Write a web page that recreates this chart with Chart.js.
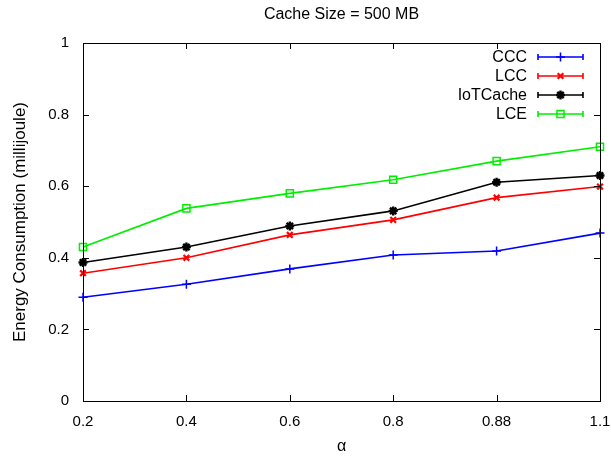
<!DOCTYPE html>
<html>
<head>
<meta charset="utf-8">
<script src="https://cdn.jsdelivr.net/npm/chart.js@4/dist/chart.umd.min.js"></script>
<style>
html,body{margin:0;padding:0;background:#fff;}
#wrap{width:611px;height:458px;position:relative;}
</style>
</head>
<body>
<div id="wrap"><canvas id="c" width="611" height="458"></canvas></div>
<script>
const categories = ['0.2', '0.4', '0.6', '0.8', '0.88', '1.1'];
const cccValues = [0.29, 0.326, 0.369, 0.408, 0.419, 0.469];
const lccValues = [0.357, 0.400, 0.464, 0.506, 0.568, 0.599];
const iotCacheValues = [0.387, 0.430, 0.489, 0.531, 0.611, 0.630];
const lceValues = [0.430, 0.538, 0.580, 0.618, 0.670, 0.710];
const seriesNames = ['CCC', 'LCC', 'IoTCache', 'LCE'];
const yTickLabels = ['0', '0.2', '0.4', '0.6', '0.8', '1'];
const chartTitle = 'Cache Size = 500 MB';
const yTitle = 'Energy Consumption (millijoule)';
const xTitle = 'α';

const FONT = '"Liberation Sans", Arial, sans-serif';

function ds(label, data, color, style, radius, width) {
  return {
    label, data,
    borderColor: color, backgroundColor: color,
    pointStyle: style, pointRadius: radius, pointHoverRadius: radius,
    pointBorderColor: color, pointBackgroundColor: 'rgba(0,0,0,0)',
    pointBorderWidth: width, borderWidth: 1.6, tension: 0
  };
}

const datasets = [
  ds(seriesNames[0], cccValues, '#0000ff', 'cross', 4.5, 1.5),
  ds(seriesNames[1], lccValues, '#ff0000', 'crossRot', 4, 2.2),
  ds(seriesNames[2], iotCacheValues, '#000000', 'star', 4.5, 2.4),
  ds(seriesNames[3], lceValues, '#00ee00', 'rect', 5, 1.5)
];

const framePlugin = {
  id: 'frame',
  afterDraw(chart) {
    const ctx = chart.ctx;
    const a = chart.chartArea;
    ctx.save();
    ctx.strokeStyle = '#000';
    ctx.lineWidth = 1;
    ctx.strokeRect(Math.round(a.left) + 0.5, Math.round(a.top) + 0.5,
      Math.round(a.right - a.left), Math.round(a.bottom - a.top));
    const xs = chart.scales.x, ys = chart.scales.y;
    const tl = 6;
    ctx.beginPath();
    xs.ticks.forEach((t, i) => {
      const px = Math.round(xs.getPixelForTick(i)) + 0.5;
      ctx.moveTo(px, a.bottom); ctx.lineTo(px, a.bottom - tl);
      ctx.moveTo(px, a.top); ctx.lineTo(px, a.top + tl);
    });
    ys.ticks.forEach((t, i) => {
      const py = Math.round(ys.getPixelForTick(i)) + 0.5;
      ctx.moveTo(a.left, py); ctx.lineTo(a.left + tl, py);
      ctx.moveTo(a.right, py); ctx.lineTo(a.right - tl, py);
    });
    ctx.stroke();

    // title
    ctx.fillStyle = '#000';
    ctx.font = '16px ' + FONT;
    ctx.textAlign = 'center';
    ctx.textBaseline = 'middle';
    ctx.fillText(chartTitle, (a.left + a.right) / 2, 15);

    // legend
    const rows = [57, 76, 95, 114];
    const textRight = 527, lx0 = 538, lx1 = 583, cap = 3;
    ctx.font = '16px ' + FONT;
    ctx.textAlign = 'right';
    chart.data.datasets.forEach((d, i) => {
      const y = rows[i];
      ctx.fillStyle = '#000';
      ctx.fillText(d.label, textRight, y + 1);
      ctx.strokeStyle = d.borderColor;
      ctx.lineWidth = 1.6;
      ctx.beginPath();
      ctx.moveTo(lx0, y); ctx.lineTo(lx1, y);
      ctx.moveTo(lx0, y - cap); ctx.lineTo(lx0, y + cap);
      ctx.moveTo(lx1, y - cap); ctx.lineTo(lx1, y + cap);
      ctx.stroke();
      ctx.fillStyle = 'rgba(0,0,0,0)';
      ctx.strokeStyle = d.borderColor;
      ctx.lineWidth = d.pointBorderWidth;
      Chart.helpers.drawPoint(ctx, {
        pointStyle: d.pointStyle, radius: d.pointRadius, rotation: 0,
        borderWidth: d.pointBorderWidth
      }, (lx0 + lx1) / 2, y);
    });
    ctx.restore();
  }
};

new Chart(document.getElementById('c'), {
  type: 'line',
  data: { labels: categories, datasets },
  options: {
    responsive: false,
    animation: false,
    devicePixelRatio: 1,
    layout: { padding: { top: 43, right: 11, left: 0, bottom: 0 } },
    plugins: { legend: { display: false }, title: { display: false }, tooltip: { enabled: false } },
    scales: {
      x: {
        type: 'category',
        offset: false,
        grid: { display: false, drawTicks: false },
        border: { display: false },
        ticks: { color: '#000', font: { family: FONT, size: 15 }, padding: 12, maxRotation: 0, autoSkip: false },
        title: { display: true, text: xTitle, color: '#000', font: { family: FONT, size: 16 }, padding: { top: 0, bottom: 2 } },
        afterFit(s) { s.height = 57; s.paddingRight = 0; s.paddingLeft = 0; }
      },
      y: {
        min: 0, max: 1,
        grid: { display: false, drawTicks: false },
        border: { display: false },
        ticks: {
          stepSize: 0.2, color: '#000', font: { family: FONT, size: 15 }, padding: 14,
          callback: (v, i) => yTickLabels[i]
        },
        title: { display: true, text: yTitle, color: '#000', font: { family: FONT, size: 17 }, padding: { top: 10, bottom: 0 } },
        afterFit(s) { s.width = 83; s.paddingTop = 0; s.paddingBottom = 0; }
      }
    }
  },
  plugins: [framePlugin]
});
</script>
</body>
</html>
